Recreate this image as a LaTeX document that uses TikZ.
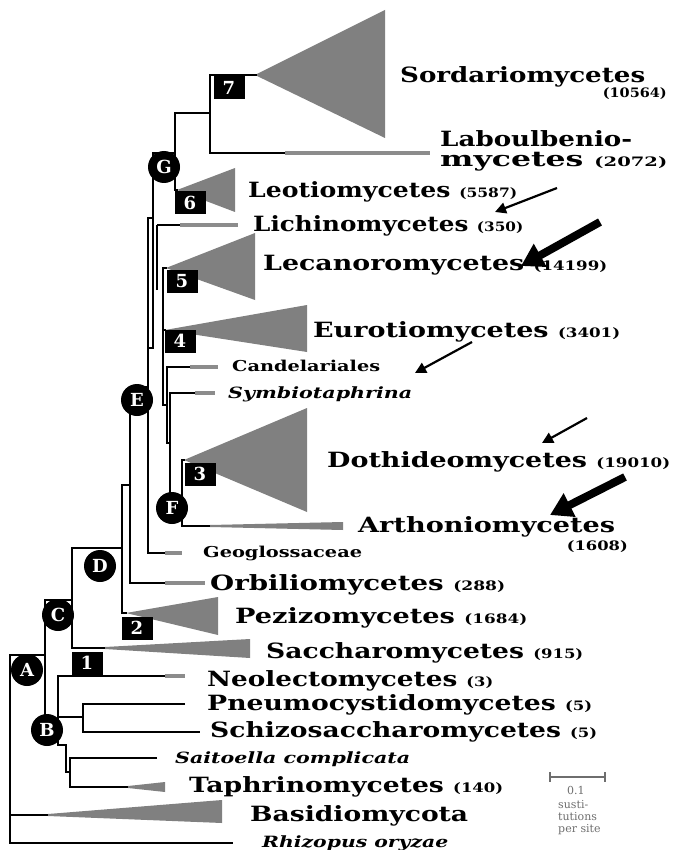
\documentclass[tikz,border=0pt]{standalone}
\usepackage{graphicx}
\usepackage{fontspec}
\setmainfont{DejaVu Serif}
\usetikzlibrary{arrows.meta}
\definecolor{wedgegray}{RGB}{128,128,128}
\definecolor{branchgray}{RGB}{140,140,140}
\definecolor{sbgray}{RGB}{110,110,110}
\newcommand\taxn[1]{{\fontsize{13}{13}\selectfont(#1)}}
\newcommand\fitw[2]{\resizebox{#1pt}{\height}{#2}}
\begin{document}
\begin{tikzpicture}[x=1pt,y=-1pt,
  br/.style={line width=2.2pt, line join=miter},
  gbr/.style={line width=3.2pt, draw=branchgray},
  wedge/.style={fill=wedgegray},
  circ/.style={circle, fill=black, text=white, minimum size=32pt, inner sep=0pt, font=\fontsize{18}{18}\selectfont\bfseries},
  boxn/.style={rectangle, fill=black, text=white, minimum width=31pt, minimum height=23pt, inner sep=0pt, font=\fontsize{18}{18}\selectfont\bfseries},
  lab/.style={anchor=base west, inner sep=0pt, font=\fontsize{21}{22}\selectfont\bfseries},
  slab/.style={anchor=base west, inner sep=0pt, font=\fontsize{15}{16}\selectfont\bfseries},
  ilab/.style={anchor=base west, inner sep=0pt, font=\fontsize{15.5}{16}\selectfont\bfseries\itshape},
  numl/.style={anchor=base east, inner sep=0pt, font=\fontsize{13}{13}\selectfont\bfseries},
  thinarrow/.style={line width=2.2pt, -{Triangle[length=11pt,width=11pt]}},
  fatarrow/.style={line width=8pt, -{Triangle[length=22pt,width=25pt]}},
  scl/.style={inner sep=0pt, text=sbgray, font=\fontsize{11}{12}\selectfont, anchor=base west}
]
\useasboundingbox (0,0) rectangle (673,850);

% ---------- coordinates of branch points ----------
\coordinate (p7t) at (210,75);   \coordinate (p7b) at (210,153);
\coordinate (sordA) at (257,75);
\coordinate (laubE) at (285,153); \coordinate (laubG) at (430,153);
\coordinate (p6t) at (175,113);  \coordinate (p6b) at (175,190);
\coordinate (gt) at (153,153);   \coordinate (gb) at (153,348);
\coordinate (k1t) at (148,218);  \coordinate (k1b) at (148,553);
\coordinate (licht) at (157,225); \coordinate (lichb) at (157,290);
\coordinate (lichE) at (180,225); \coordinate (lichG) at (238,225);
\coordinate (p5t) at (163,268);  \coordinate (p5b) at (163,405);
\coordinate (p4) at (163,330);
\coordinate (pct) at (167,367);  \coordinate (pcb) at (167,443);
\coordinate (candE) at (190,367); \coordinate (candG) at (218,367);
\coordinate (pst) at (170,393);  \coordinate (psb) at (170,508);
\coordinate (symE) at (195,393); \coordinate (symG) at (215,393);
\coordinate (pft) at (182,460);  \coordinate (pfb) at (182,526);
\coordinate (artE) at (210,526);
\coordinate (geoE) at (165,553); \coordinate (geoG) at (182,553);
\coordinate (pet) at (130,387);  \coordinate (peb) at (130,583);
\coordinate (orbE) at (165,583); \coordinate (orbG) at (205,583);
\coordinate (pdt) at (122,485);  \coordinate (pdb) at (122,613);
\coordinate (pcct) at (72,548);  \coordinate (pccb) at (72,648);
\coordinate (sacE) at (105,648);
\coordinate (pbt) at (45,600);   \coordinate (pbb) at (45,735);
\coordinate (pnt) at (58,676);   \coordinate (pnb) at (58,745);
\coordinate (neoE) at (165,676); \coordinate (neoG) at (185,676);
\coordinate (ppt) at (83,704);   \coordinate (ppb) at (83,732);
\coordinate (pneu) at (185,704); \coordinate (schi) at (200,732);
\coordinate (q1) at (66,745);    \coordinate (q2) at (66,772);
\coordinate (pt1) at (70,758);   \coordinate (pt2) at (70,787);
\coordinate (sait) at (157,758); \coordinate (taphE) at (128,787);
\coordinate (rt) at (10,655);    \coordinate (rb) at (10,843);
\coordinate (basE) at (48,815);  \coordinate (rhiz) at (233,843);

% ---------- wedges (collapsed clades) ----------
\fill[wedge] (255,75) -- (385,10) -- (385,138) -- cycle;
\fill[wedge] (177,190) -- (235,168) -- (235,212) -- cycle;
\fill[wedge] (166,268) -- (255,233) -- (255,300) -- cycle;
\fill[wedge] (165,330) -- (307,305) -- (307,352) -- cycle;
\fill[wedge] (184,460) -- (307,408) -- (307,512) -- cycle;
\fill[wedge] (210,525) -- (343,522) -- (343,530) -- (210,527) -- cycle;
\fill[wedge] (126,613) -- (218,597) -- (218,635) -- cycle;
\fill[wedge] (105,647) -- (250,639) -- (250,658) -- (105,649) -- cycle;
\fill[wedge] (128,786) -- (165,782) -- (165,792) -- (128,788) -- cycle;
\fill[wedge] (48,814) -- (222,800) -- (222,823) -- (48,816) -- cycle;

% ---------- gray branch ends ----------
\draw[gbr] (laubE) -- (laubG);
\draw[gbr] (lichE) -- (lichG);
\draw[gbr] (candE) -- (candG);
\draw[gbr] (symE) -- (symG);
\draw[gbr] (geoE) -- (geoG);
\draw[gbr] (orbE) -- (orbG);
\draw[gbr] (neoE) -- (neoG);

% ---------- black branches ----------
\draw[br] (sordA) -- (p7t) -- (p7b) -- (laubE);
\draw[br] (p7t |- p6t) -- (p6t) -- (p6b) -- ++(3,0);
\draw[br] (p6t |- gt) -- (gt) -- (gb) -- ++(-5,0);
\draw[br] (gt |- k1t) -- (k1t) -- (k1b) -- (geoE);
\draw[line width=2.8pt] (lichb) -- (licht);
\draw[br] (licht) -- (lichE);
\draw[br] (p5t) ++(4,0) -- (p5t) -- (p5b) -- (pct |- p5b);
\draw[br] (p4) -- ++(3,0);
\draw[br] (candE) -- (pct) -- (pcb) -- (pst |- pcb);
\draw[br] (symE) -- (pst) -- (psb) -- (pft |- psb);
\draw[br] (pft) ++(3,0) -- (pft) -- (pfb) -- (artE);
\draw[br] (k1t |- pet) -- (pet) -- (peb) -- (orbE);
\draw[br] (pet |- pdt) -- (pdt) -- (pdb) -- ++(5,0);
\draw[br] (pdt |- pcct) -- (pcct) -- (pccb) -- (sacE);
\draw[br] (pcct |- pbt) -- (pbt) -- (pbb);
\draw[br] (neoE) -- (pnt) -- (pnb) -- (q1) -- (q2) -- (pt1 |- q2);
\draw[br] (pbb) -- (pnt |- pbb);
\draw[br] (pnt |- 0,717) -- (ppt |- 0,717);
\draw[br] (pneu) -- (ppt) -- (ppb) -- (schi);
\draw[br] (sait) -- (pt1) -- (pt2) -- (taphE);
\draw[br] (pbt |- rt) -- (rt) -- (rb) -- (rhiz);
\draw[br] (rt |- basE) -- (basE);

% ---------- circled node labels ----------
\node[circ] (nA) at (27,670) {A};
\node[circ] (nB) at (47,730) {B};
\node[circ] (nC) at (58,615) {C};
\node[circ] (nD) at (100,566) {D};
\node[circ] (nE) at (137,400) {E};
\node[circ] (nF) at (172,508) {F};
\node[circ] (nG) at (164,167) {G};

% ---------- numbered boxes ----------
\node[boxn] (b7) at (229,88) {7};
\node[boxn] (b6) at (190,203) {6};
\node[boxn] (b5) at (182,281) {5};
\node[boxn] (b4) at (180,341) {4};
\node[boxn] (b3) at (200,474) {3};
\node[boxn] (b2) at (137,628) {2};
\node[boxn] (b1) at (87,663) {1};

% ---------- taxon labels ----------
\node[lab] (tSord) at (400,83) {\fitw{245}{Sordariomycetes}};
\node[numl] (nSord) at (667,98) {\fitw{64}{(10564)}};
\node[lab] (tLab1) at (440,147) {\fitw{192}{Laboulbenio-}};
\node[lab] (tLab2) at (440,167) {\fitw{227}{mycetes \taxn{2072}}};
\node[lab] (tLeo) at (248,198) {\fitw{269}{Leotiomycetes \taxn{5587}}};
\node[lab] (tLic) at (253,232) {\fitw{270}{Lichinomycetes \taxn{350}}};
\node[lab] (tLec) at (263,270) {\fitw{344}{Lecanoromycetes \taxn{14199}}};
\node[lab] (tEur) at (313,337) {\fitw{307}{Eurotiomycetes \taxn{3401}}};
\node[slab] (tCan) at (232,371) {\fitw{148}{Candelariales}};
\node[ilab] (tSym) at (228,398) {\fitw{184}{Symbiotaphrina}};
\node[lab] (tDot) at (327,467) {\fitw{343}{Dothideomycetes \taxn{19010}}};
\node[lab] (tArt) at (358,532) {\fitw{257}{Arthoniomycetes}};
\node[numl] (nArt) at (628,550) {\fitw{61}{(1608)}};
\node[slab] (tGeo) at (203,557) {\fitw{159}{Geoglossaceae}};
\node[lab] (tOrb) at (210,590) {\fitw{295}{Orbiliomycetes \taxn{288}}};
\node[lab] (tPez) at (235,623) {\fitw{292}{Pezizomycetes \taxn{1684}}};
\node[lab] (tSac) at (266,658) {\fitw{317}{Saccharomycetes \taxn{915}}};
\node[lab] (tNeo) at (207,686) {\fitw{286}{Neolectomycetes \taxn{3}}};
\node[lab] (tPne) at (207,710) {\fitw{385}{Pneumocystidomycetes \taxn{5}}};
\node[lab] (tSch) at (210,737) {\fitw{387}{Schizosaccharomycetes \taxn{5}}};
\node[ilab] (tSai) at (175,763) {\fitw{235}{Saitoella complicata}};
\node[lab] (tTap) at (189,792) {\fitw{314}{Taphrinomycetes \taxn{140}}};
\node[lab] (tBas) at (250,821) {\fitw{218}{Basidiomycota}};
\node[ilab] (tRhi) at (262,847) {\fitw{186}{Rhizopus oryzae}};

% ---------- arrows ----------
\coordinate (a1s) at (557,188); \coordinate (a1e) at (495,212);
\coordinate (a2s) at (600,222); \coordinate (a2e) at (521,266);
\coordinate (a3s) at (472,342); \coordinate (a3e) at (415,373);
\coordinate (a4s) at (587,418); \coordinate (a4e) at (542,443);
\coordinate (a5s) at (625,477); \coordinate (a5e) at (550,515);
\draw[thinarrow] (a1s) -- (a1e);
\draw[fatarrow] (a2s) -- (a2e);
\draw[thinarrow] (a3s) -- (a3e);
\draw[thinarrow] (a4s) -- (a4e);
\draw[fatarrow] (a5s) -- (a5e);

% ---------- scale bar ----------
\coordinate (sb1) at (550,777); \coordinate (sb2) at (605,777);
\draw[line width=1.5pt, draw=sbgray] (sb1) -- (sb2);
\draw[line width=1.5pt, draw=sbgray] (sb1) ++(0,-5) -- ++(0,10);
\draw[line width=1.5pt, draw=sbgray] (sb2) ++(0,-5) -- ++(0,10);
\node[scl] (s1) at (567,794) {0.1};
\node[scl] (s2) at (558,808) {susti-};
\node[scl] (s3) at (558,820) {tutions};
\node[scl] (s4) at (558,832) {per site};
\end{tikzpicture}
\end{document}
